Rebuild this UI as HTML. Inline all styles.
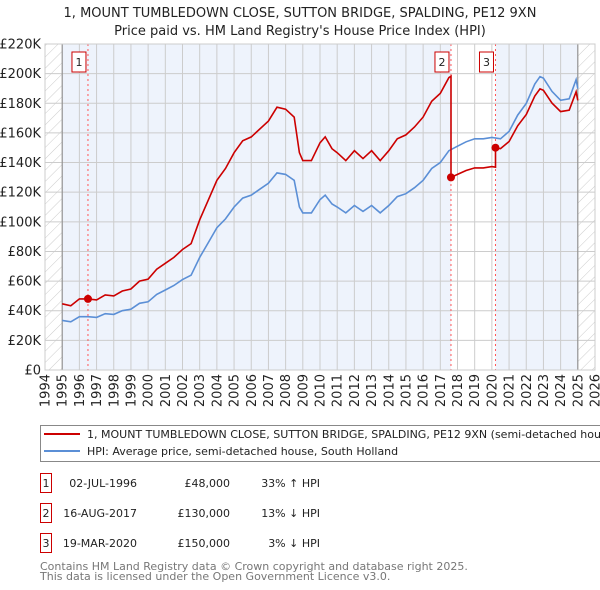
<!DOCTYPE html>
<html><head><meta charset="utf-8">
<style>
body{margin:0;background:#fff;font-family:"DejaVu Sans","Liberation Sans",sans-serif;}
#wrap{position:relative;width:600px;height:590px;overflow:hidden;}
svg text{font-family:"DejaVu Sans","Liberation Sans",sans-serif;}
</style></head>
<body>
<div id="wrap">
<svg id="chart" width="600" height="590" xmlns="http://www.w3.org/2000/svg"></svg>
</div>
<script>
const hpiYears=[1995,1995.5,1996,1996.5,1997,1997.5,1998,1998.5,1999,1999.5,2000,2000.5,2001,2001.5,2002,2002.5,2003,2003.5,2004,2004.5,2005,2005.5,2006,2006.5,2007,2007.5,2008,2008.5,2008.8,2009,2009.5,2010,2010.3,2010.7,2011,2011.5,2012,2012.5,2013,2013.5,2014,2014.5,2015,2015.5,2016,2016.5,2017,2017.5,2018,2018.5,2019,2019.5,2020,2020.5,2021,2021.5,2022,2022.5,2022.8,2023,2023.5,2024,2024.5,2024.9,2025.0];
const hpiValues=[33.5,32.5,36,36,35.5,38,37.5,40,41,45,46,51,54,57,61,64,76,86,96,102,110,116,118,122,126,133,132,128,110,106,106,115,118,112,110,106,111,107,111,106,111,117,119,123,128,136,140,148,151,154,156,156,157,156,161,172,180,193,198,197,188,182,183,196,190];
const saleDates=[1996.50,2017.62,2020.21];
const salePrices=[48,130,150];
const saleLabels=["1","2","3"];
const yTicks=[0,20,40,60,80,100,120,140,160,180,200,220];
const yTickLabels=["£0","£20K","£40K","£60K","£80K","£100K","£120K","£140K","£160K","£180K","£200K","£220K"];
const xTicks=[1994,1995,1996,1997,1998,1999,2000,2001,2002,2003,2004,2005,2006,2007,2008,2009,2010,2011,2012,2013,2014,2015,2016,2017,2018,2019,2020,2021,2022,2023,2024,2025,2026];

const L=45,R=595,T=44,B=370;
const X=v=>L+(v-1994)*(R-L)/32;
const Y=v=>B-v*(B-T)/220;
const NS="http://www.w3.org/2000/svg";
const svg=document.getElementById('chart');
function mk(tag,attrs,parent){const e=document.createElementNS(NS,tag);for(const k in attrs)e.setAttribute(k,attrs[k]);(parent||svg).appendChild(e);return e;}
function hpiAt(t){for(let i=0;i<hpiYears.length-1;i++){if(t>=hpiYears[i]&&t<=hpiYears[i+1]){const f=(t-hpiYears[i])/(hpiYears[i+1]-hpiYears[i]);return hpiValues[i]+f*(hpiValues[i+1]-hpiValues[i]);}}return t<hpiYears[0]?hpiValues[0]:hpiValues[hpiValues.length-1];}

const defs=mk('defs',{});
const pat=mk('pattern',{id:'hatch',width:'8',height:'8',patternUnits:'userSpaceOnUse',patternTransform:'rotate(45)'},defs);
mk('line',{x1:0,y1:0,x2:0,y2:8,stroke:'#ccc','stroke-width':1},pat);

let t=mk('text',{x:300,y:17,'text-anchor':'middle','font-size':'13',fill:'#222'});t.textContent="1, MOUNT TUMBLEDOWN CLOSE, SUTTON BRIDGE, SPALDING, PE12 9XN";

t=mk('text',{x:300,y:35,'text-anchor':'middle','font-size':'13',fill:'#222'});t.textContent="Price paid vs. HM Land Registry's House Price Index (HPI)";


mk('rect',{x:L,y:T,width:R-L,height:B-T,fill:'#fff'});
let r=mk('rect',{x:X(1995),y:T,width:X(saleDates[1])-X(1995),height:B-T,fill:'#eef3fc'});

r=mk('rect',{x:X(saleDates[2]),y:T,width:X(2025)-X(saleDates[2]),height:B-T,fill:'#eef3fc'});

mk('rect',{x:L,y:T,width:X(1995)-L,height:B-T,fill:'url(#hatch)'});
mk('rect',{x:X(2025),y:T,width:R-X(2025),height:B-T,fill:'url(#hatch)'});

yTicks.forEach((v,i)=>{
  mk('line',{x1:L,x2:R,y1:Y(v),y2:Y(v),stroke:'#ccc','stroke-width':1});
  const tx=mk('text',{x:L-4,y:Y(v)+4.5,'text-anchor':'end','font-size':'13',fill:'#222'});
  tx.textContent=yTickLabels[i];
  
  
});
xTicks.forEach(v=>{
  mk('line',{x1:X(v),x2:X(v),y1:T,y2:B,stroke:'#ccc','stroke-width':1});
  const tx=mk('text',{x:0,y:0,'text-anchor':'end','font-size':'13',fill:'#222',transform:`translate(${X(v)+4.5},${B+4}) rotate(-90)`});
  tx.textContent=String(v);
  
  
});
mk('line',{x1:X(1995),x2:X(1995),y1:T,y2:B,stroke:'#888','stroke-width':1});
mk('line',{x1:X(2025),x2:X(2025),y1:T,y2:B,stroke:'#888','stroke-width':1});

saleDates.forEach((d,i)=>{
  const ln=mk('line',{x1:X(d),x2:X(d),y1:T,y2:B,stroke:'#f55','stroke-width':1,'stroke-dasharray':'2,3'});
  
  
});

let pts=hpiYears.map((y,i)=>X(y).toFixed(1)+','+Y(hpiValues[i]).toFixed(1)).join(' ');
let pl=mk('polyline',{points:pts,fill:'none',stroke:'#5b8fd6','stroke-width':1.6});



let redPts=[];
for(let s=0;s<saleDates.length;s++){
  const start=s===0?1995:saleDates[s];
  const end=s<saleDates.length-1?saleDates[s+1]:2025;
  const f=salePrices[s]/hpiAt(saleDates[s]);
  const ts=[start].concat(hpiYears.filter(y=>y>start&&y<end)).concat([end]);
  ts.forEach((tt,j)=>{
    if(s>0&&j===0) redPts.push(X(tt).toFixed(1)+','+Y(hpiAt(tt)*salePrices[s-1]/hpiAt(saleDates[s-1])).toFixed(1));
    redPts.push(X(tt).toFixed(1)+','+Y(hpiAt(tt)*f).toFixed(1));
  });
}
pl=mk('polyline',{points:redPts.join(' '),fill:'none',stroke:'#cc0000','stroke-width':1.6});



saleDates.forEach((d,i)=>{
  const c=mk('circle',{cx:X(d),cy:Y(salePrices[i]),r:4,fill:'#cc0000'});
  
  
  const g=mk('g',{});
  
  
  mk('rect',{x:X(d)-16,y:52,width:14,height:20,fill:'#fff',stroke:'#cc0000','stroke-width':1},g);
  const tx=mk('text',{x:X(d)-9,y:66,'text-anchor':'middle','font-size':'11',fill:'#222'},g);
  tx.textContent=saleLabels[i];
});

mk('rect',{x:L,y:T,width:R-L,height:B-T,fill:'none',stroke:'#ccc','stroke-width':1});

const lg=mk('g',{});


mk('rect',{x:40.5,y:425.5,width:580,height:36,fill:'#fff',stroke:'#888','stroke-width':1},lg);
mk('line',{x1:44,x2:80,y1:434,y2:434,stroke:'#cc0000','stroke-width':2},lg);
mk('line',{x1:44,x2:80,y1:451,y2:451,stroke:'#5b8fd6','stroke-width':2},lg);
let lt=mk('text',{x:87,y:438,'font-size':'11',fill:'#222'},lg);
lt.textContent="1, MOUNT TUMBLEDOWN CLOSE, SUTTON BRIDGE, SPALDING, PE12 9XN (semi-detached house)";

lt=mk('text',{x:87,y:455,'font-size':'11',fill:'#222'},lg);
lt.textContent="HPI: Average price, semi-detached house, South Holland";


const rowsDate=["02-JUL-1996","16-AUG-2017","19-MAR-2020"];
const rowsPrice=["£48,000","£130,000","£150,000"];
const rowsHpi=["33% ↑ HPI","13% ↓ HPI","3% ↓ HPI"];
rowsDate.forEach((d,i)=>{
  const y=483+i*30;
  const g=mk('g',{});
  
  
  mk('rect',{x:40.5,y:y-9.5,width:11,height:19,fill:'#fff',stroke:'#cc0000','stroke-width':1},g);
  let a=mk('text',{x:46,y:y+4,'text-anchor':'middle','font-size':'11',fill:'#222'},g);a.textContent=saleLabels[i];
  a=mk('text',{x:137,y:y+4,'text-anchor':'end','font-size':'11',fill:'#222'},g);a.textContent=d;
  a=mk('text',{x:230,y:y+4,'text-anchor':'end','font-size':'11',fill:'#222'},g);a.textContent=rowsPrice[i];
  a=mk('text',{x:320,y:y+4,'text-anchor':'end','font-size':'11',fill:'#222'},g);a.textContent=rowsHpi[i];
});
let ft=mk('text',{x:40,y:570,'font-size':'11',fill:'#777'});
ft.textContent="Contains HM Land Registry data © Crown copyright and database right 2025.";

ft=mk('text',{x:40,y:580,'font-size':'11',fill:'#777'});
ft.textContent="This data is licensed under the Open Government Licence v3.0.";

</script>
</body></html>
